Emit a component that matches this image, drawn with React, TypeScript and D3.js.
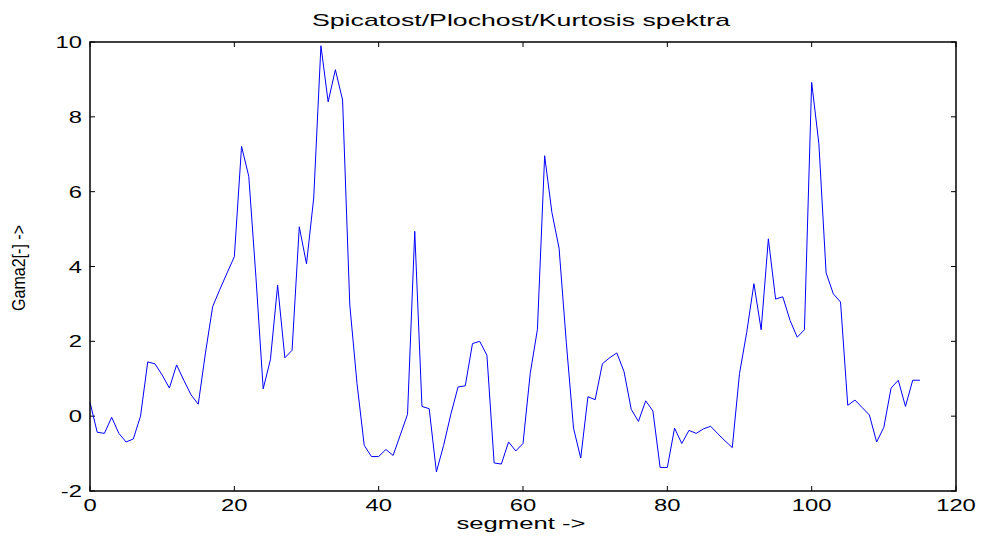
import React from 'react';
import * as d3 from 'd3';

// kurtosis per segment
const kurtosis = [
  0.37, -0.43, -0.46, -0.03, -0.46, -0.69, -0.61, 0.0, 1.45, 1.4,
  1.1, 0.75, 1.37, 0.96, 0.57, 0.32, 1.69, 2.93, 3.39, 3.83,
  4.26, 7.21, 6.41, 3.7, 0.73, 1.51, 3.5, 1.56, 1.76, 5.06,
  4.07, 5.83, 9.9, 8.4, 9.26, 8.45, 2.97, 0.87, -0.78, -1.08,
  -1.08, -0.89, -1.05, -0.5, 0.05, 4.94, 0.26, 0.2, -1.49, -0.78,
  0.05, 0.78, 0.81, 1.94, 2.0, 1.63, -1.25, -1.28, -0.69, -0.93,
  -0.73, 1.14, 2.32, 6.96, 5.45, 4.49, 1.97, -0.32, -1.12, 0.52,
  0.44, 1.4, 1.56, 1.69, 1.19, 0.18, -0.14, 0.41, 0.14, -1.37,
  -1.37, -0.32, -0.73, -0.38, -0.46, -0.34, -0.27, -0.47, -0.66, -0.84,
  1.14, 2.24, 3.54, 2.31, 4.74, 3.13, 3.19, 2.56, 2.11, 2.31,
  8.92, 7.28, 3.83, 3.27, 3.05, 0.29, 0.43, 0.23, 0.03, -0.69,
  -0.3, 0.75, 0.96, 0.26, 0.96, 0.96,
];
const xTicks = [0, 20, 40, 60, 80, 100, 120];
const yTicks = [-2, 0, 2, 4, 6, 8, 10];

const W = 982;
const H = 538;
const left = 90, right = 956, top = 42, bottom = 491;

export default function App() {
  const x = d3.scaleLinear().domain([0, 120]).range([left, right]);
  const y = d3.scaleLinear().domain([-2, 10]).range([bottom, top]);
  const line = d3.line<number>().x((_, i) => x(i)).y(d => y(d));
  const font = 'Liberation Sans, Arial, sans-serif';
  const tk = 5;
  // the original image is stretched horizontally
  const sx = 1.4;

  return (
    <svg width={W} height={H} style={{ position: 'absolute', left: 0, top: 0 }} fontFamily={font}>
      <rect x={0} y={0} width={W} height={H} fill="#fff" />
      <text x={521} y={26} textAnchor="middle" fontSize={17} textLength={418} lengthAdjust="spacingAndGlyphs">
        Spicatost/Plochost/Kurtosis spektra
      </text>

      {xTicks.map(t => (
        <g key={'x' + t}>
          <line x1={x(t)} x2={x(t)} y1={bottom} y2={bottom - tk} stroke="#000" />
          <line x1={x(t)} x2={x(t)} y1={top} y2={top + tk} stroke="#000" />
          <text transform={`translate(${x(t)},${bottom + 20}) scale(${sx},1)`} textAnchor="middle" fontSize={17}>{t}</text>
        </g>
      ))}
      {yTicks.map(t => (
        <g key={'y' + t}>
          <line x1={left} x2={left + tk} y1={y(t)} y2={y(t)} stroke="#000" />
          <line x1={right} x2={right - tk} y1={y(t)} y2={y(t)} stroke="#000" />
          <text transform={`translate(${left - 8},${y(t) + 6}) scale(${sx},1)`} textAnchor="end" fontSize={17}>{t}</text>
        </g>
      ))}

      <path d={line(kurtosis) ?? ''} fill="none" stroke="#0000ff" strokeWidth={1} />
      <rect x={left} y={top} width={right - left} height={bottom - top} fill="none" stroke="#000" strokeWidth={1.5} />

      <text x={521} y={529} textAnchor="middle" fontSize={17} textLength={129} lengthAdjust="spacingAndGlyphs">segment -&gt;</text>
      <text
        transform={`translate(25, 268) rotate(-90)`}
        textAnchor="middle"
        fontSize={19}
        textLength={86}
        lengthAdjust="spacingAndGlyphs"
      >
        Gama2[-] -&gt;
      </text>
    </svg>
  );
}
